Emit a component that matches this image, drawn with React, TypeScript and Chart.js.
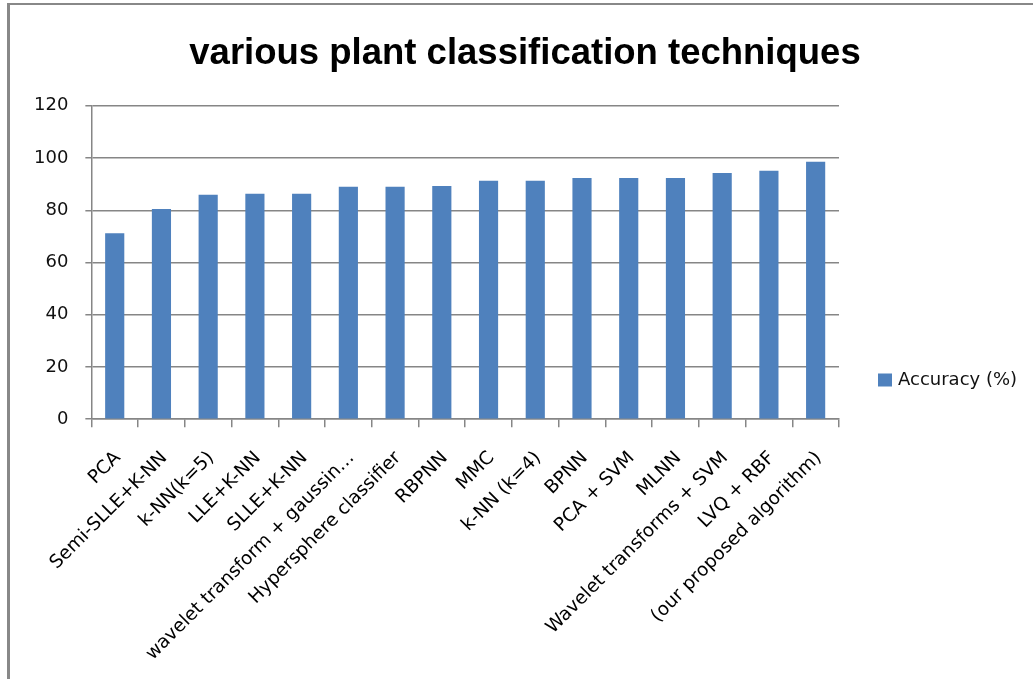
import React, { useEffect, useRef } from "react";
import { Chart, registerables } from "chart.js";

Chart.register(...registerables);

const chartTitle = "various plant classification techniques";
const seriesLabel = "Accuracy (%)";
const categories = [
  "PCA",
  "Semi-SLLE+K-NN",
  "k-NN(k=5)",
  "LLE+K-NN",
  "SLLE+K-NN",
  "wavelet transform + gaussin…",
  "Hypersphere classifier",
  "RBPNN",
  "MMC",
  "k-NN (k=4)",
  "BPNN",
  "PCA + SVM",
  "MLNN",
  "Wavelet transforms + SVM",
  "LVQ + RBF",
  "(our proposed algorithm)",
];
const accuracy = [71.2, 80.5, 85.9, 86.3, 86.3, 89.0, 89.0, 89.3, 91.3, 91.3, 92.4, 92.4, 92.4, 94.3, 95.1, 98.6];
const yMin = 0;
const yMax = 120;
const yStep = 20;

const BAR_COLOR = "#4F81BD";
const GRID_COLOR = "#868686";
const FONT = "DejaVu Sans";
const PAD_LEFT = 17;
const RIGHT_RESERVE = 194;

const legendPlugin = {
  id: "sideLegend",
  afterDraw(chart: any) {
    const { ctx, chartArea } = chart;
    const x = chartArea.right + 39;
    const yc = 380.5;
    ctx.save();
    chart.data.datasets.forEach((ds: any, i: number) => {
      const y = yc + i * 24;
      ctx.fillStyle = ds.backgroundColor;
      ctx.fillRect(x, y - 7, 14, 13);
      ctx.fillStyle = "#111";
      ctx.font = `18px "${FONT}"`;
      ctx.textBaseline = "middle";
      ctx.textAlign = "left";
      ctx.fillText(ds.label, x + 20, y);
    });
    ctx.restore();
  },
};

export default function App() {
  const ref = useRef<HTMLCanvasElement | null>(null);

  useEffect(() => {
    if (!ref.current) return;
    const chart = new Chart(ref.current, {
      type: "bar",
      data: {
        labels: categories,
        datasets: [
          {
            label: seriesLabel,
            data: accuracy,
            backgroundColor: BAR_COLOR,
            borderWidth: 0,
            categoryPercentage: 1,
            barPercentage: 0.41,
          },
        ],
      },
      plugins: [legendPlugin],
      options: {
        animation: false,
        responsive: false,
        maintainAspectRatio: false,
        layout: { padding: { left: PAD_LEFT, right: 0, top: 0, bottom: -6 } },
        plugins: {
          legend: { display: false },
          tooltip: { enabled: false },
          title: {
            display: true,
            text: chartTitle,
            color: "#000",
            font: { family: "Liberation Sans", size: 36.5, weight: "bold" },
            padding: { top: 32, bottom: 30 },
          },
        },
        scales: {
          x: {
            grid: {
              display: true,
              drawOnChartArea: false,
              drawTicks: true,
              tickLength: 8,
              color: GRID_COLOR,
              lineWidth: 1.5,
              offset: true,
            },
            border: { display: true, color: GRID_COLOR, width: 1.5 },
            ticks: {
              autoSkip: false,
              minRotation: 45,
              maxRotation: 45,
              padding: 20,
              labelOffset: 3,
              color: "#000",
              font: { family: FONT, size: 18.5 },
            },
          },
          y: {
            min: yMin,
            max: yMax,
            ticks: {
              stepSize: yStep,
              padding: 17,
              color: "#111",
              font: { family: FONT, size: 18 },
            },
            grid: {
              color: GRID_COLOR,
              lineWidth: 1.5,
              drawTicks: true,
              tickLength: 6,
            },
            border: { display: true, color: GRID_COLOR, width: 1.5 },
          },
          legendSpace: {
            type: "linear",
            position: "right",
            display: true,
            grid: { display: false },
            border: { display: false },
            ticks: { display: false },
            afterFit: (scale: any) => {
              scale.width = RIGHT_RESERVE;
            },
          },
        },
      },
    });
    return () => chart.destroy();
  }, []);

  return (
    <div style={{ position: "fixed", left: 0, top: 0, width: 1033, height: 679, background: "#fff" }}>
      <div
        style={{
          position: "absolute",
          left: 7,
          top: 3,
          width: 1100,
          height: 760,
          borderLeft: "3px solid #888",
          borderTop: "2px solid #888",
        }}
      />
      <canvas ref={ref} width={1033} height={679} style={{ position: "absolute", left: 0, top: 0 }} />
    </div>
  );
}
